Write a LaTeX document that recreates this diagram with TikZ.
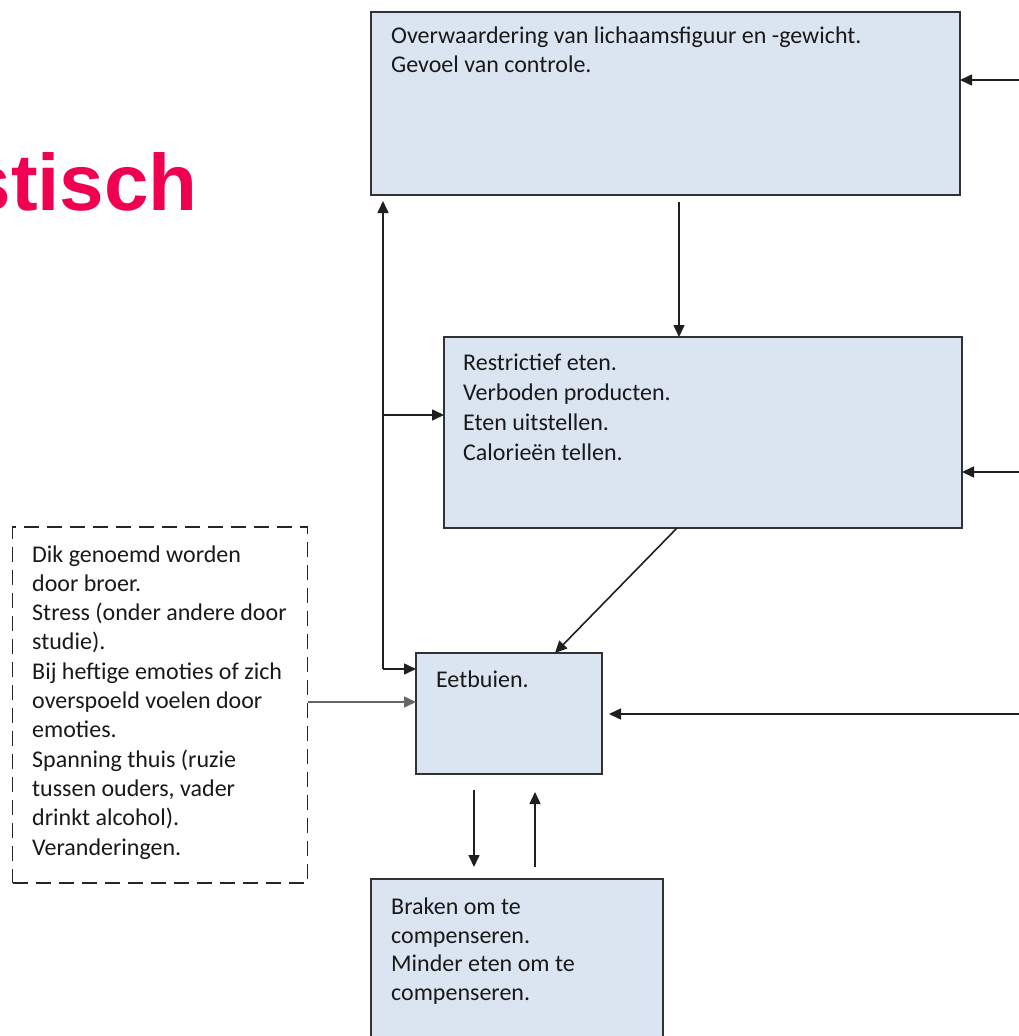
\documentclass[tikz,border=0pt]{standalone}
\usepackage{fontspec}
\setmainfont{Carlito}
\newfontfamily\titlefont{Liberation Sans}
\usetikzlibrary{arrows.meta}
\definecolor{boxfill}{RGB}{219,229,241}
\definecolor{boxline}{RGB}{50,50,50}
\definecolor{titlepink}{RGB}{240,0,82}
\begin{document}
\begin{tikzpicture}[x=1pt,y=-1pt,
  box/.style={draw=boxline, line width=2pt, fill=boxfill, rectangle, inner sep=0pt, outer sep=0pt},
  dashbox/.style={draw=black!85, line width=1.5pt, dash pattern=on 15pt off 8pt, rectangle, inner sep=0pt, outer sep=0pt},
  txt/.style={inner sep=0pt, align=left, font=\fontsize{24pt}{29.3pt}\selectfont, text=black!90},
  arr/.style={line width=1.6pt, draw=black!88, -{Triangle[length=12pt,width=11pt]}},
]
\useasboundingbox (0,0) rectangle (1019,1036);
\clip (0,0) rectangle (1019,1036);
% title
\node[font=\titlefont\bfseries\fontsize{80pt}{80pt}\selectfont, text=titlepink, anchor=base east, inner sep=0pt] (title) at (198,210) {stisch};
% boxes
\node[box, minimum width=589pt, minimum height=183pt] (top) at (665.5,103.5) {};
\node[box, minimum width=518pt, minimum height=191pt] (mid) at (703,432.5) {};
\node[box, minimum width=186pt, minimum height=121pt] (eet) at (509,713.5) {};
\node[box, minimum width=292pt, minimum height=200pt] (brak) at (517,979) {};
\node[dashbox, minimum width=295pt, minimum height=356pt] (dik) at (160,705) {};
% texts (anchored at the baseline of their last line)
\node[txt, anchor=base west] (ttop) at (391,72.3) {Overwaardering van lichaamsfiguur en -gewicht.\\Gevoel van controle.};
\node[txt, anchor=base west, font=\fontsize{24pt}{30pt}\selectfont] (tmid) at (463,460) {Restrictief eten.\\Verboden producten.\\Eten uitstellen.\\Calorieën tellen.};
\node[txt, anchor=base west] (teet) at (436,687) {Eetbuien.};
\node[txt, anchor=base west, font=\fontsize{24pt}{28.4pt}\selectfont] (tbrak) at (391,1000) {Braken om te\\compenseren.\\Minder eten om te\\compenseren.};
\node[txt, anchor=base west] (tdik) at (32,855) {Dik genoemd worden\\door broer.\\Stress (onder andere door\\studie).\\Bij heftige emoties of zich\\overspoeld voelen door\\emoties.\\Spanning thuis (ruzie\\tussen ouders, vader\\drinkt alcohol).\\Veranderingen.};
% connectors
\coordinate (corner) at (383,669);
\draw[arr] (corner) -- (eet.west |- corner);
\draw[arr, shorten >=6pt] (corner) -- (corner |- top.south);
\coordinate (midin) at ([yshift=17.5pt]mid.west);
\draw[arr] (corner |- midin) -- (midin);
\draw[arr, shorten <=7pt] ([xshift=-24pt]mid.north |- top.south) -- ([xshift=-24pt]mid.north);
\draw[arr] ([xshift=-26pt]mid.south) -- ([xshift=46pt]eet.north);
\coordinate (r1) at (1019,80);
\draw[arr] (r1) -- (r1 -| top.east);
\coordinate (r2) at (1019,472);
\draw[arr] (r2) -- (r2 -| mid.east);
\coordinate (r3) at (1019,714);
\draw[arr, shorten >=7pt] (r3) -- (r3 -| eet.east);
\coordinate (dout) at ([yshift=3pt]dik.east);
\draw[arr, draw=black!60] (dout) -- (dout -| eet.west);
\draw[arr, shorten <=16pt, shorten >=12pt] ([xshift=-35pt]eet.south) -- ([xshift=-35pt]eet.south |- brak.north);
\draw[arr, shorten <=12pt, shorten >=18pt] ([xshift=26pt]eet.south |- brak.north) -- ([xshift=26pt]eet.south);
\end{tikzpicture}
\end{document}
